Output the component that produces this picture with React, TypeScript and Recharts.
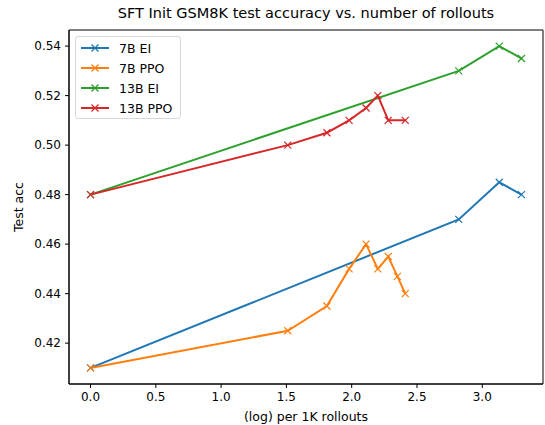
import {
  LineChart,
  Line,
  XAxis,
  YAxis,
  ReferenceArea,
} from "recharts";

// x values are log10 of rollouts (per 1K)
const EI_X = [0, 2.82, 3.13, 3.3];
const PPO_7B_X = [0, 1.51, 1.81, 1.98, 2.11, 2.2, 2.28, 2.35, 2.41];
const PPO_13B_X = [0, 1.51, 1.81, 1.98, 2.11, 2.2, 2.28, 2.41];

const EI_7B = [0.41, 0.47, 0.485, 0.48];
const PPO_7B = [0.41, 0.425, 0.435, 0.45, 0.46, 0.45, 0.455, 0.447, 0.44];
const EI_13B = [0.48, 0.53, 0.54, 0.535];
const PPO_13B = [0.48, 0.5, 0.505, 0.51, 0.515, 0.52, 0.51, 0.51];

const X_TICKS = [0, 0.5, 1.0, 1.5, 2.0, 2.5, 3.0];
const Y_TICKS = [0.42, 0.44, 0.46, 0.48, 0.5, 0.52, 0.54];

const X_DOMAIN: [number, number] = [-0.165, 3.465];
const Y_DOMAIN: [number, number] = [0.4035, 0.5465];

const SERIES = [
  { name: "7B EI", color: "#1f77b4", xs: EI_X, ys: EI_7B },
  { name: "7B PPO", color: "#ff7f0e", xs: PPO_7B_X, ys: PPO_7B },
  { name: "13B EI", color: "#2ca02c", xs: EI_X, ys: EI_13B },
  { name: "13B PPO", color: "#d62728", xs: PPO_13B_X, ys: PPO_13B },
];

const FONT = "DejaVu Sans, sans-serif";

function Cross(props: any) {
  const { cx, cy, stroke } = props;
  if (cx == null || cy == null) return null;
  const r = 3.5;
  return (
    <g>
      <line x1={cx - r} y1={cy - r} x2={cx + r} y2={cy + r} stroke={stroke} strokeWidth={1.2} />
      <line x1={cx - r} y1={cy + r} x2={cx + r} y2={cy - r} stroke={stroke} strokeWidth={1.2} />
    </g>
  );
}

function LegendBox() {
  return (
    <div
      style={{
        position: "absolute",
        left: 75,
        top: 36,
        width: 106,
        height: 83,
        border: "1px solid #d8d8d8",
        borderRadius: 3,
        background: "rgba(255,255,255,0.8)",
        fontFamily: FONT,
        fontSize: 12.5,
        boxSizing: "border-box",
        paddingTop: 1,
      }}
    >
      {SERIES.map((s) => (
        <div key={s.name} style={{ display: "flex", alignItems: "center", height: 20 }}>
          <svg width={43} height={20} style={{ flexShrink: 0 }}>
            <line x1={5} y1={10} x2={33} y2={10} stroke={s.color} strokeWidth={2} />
            <Cross cx={19} cy={10} stroke={s.color} />
          </svg>
          <span style={{ color: "#000" }}>{s.name}</span>
        </div>
      ))}
    </div>
  );
}

export default function App() {
  const tick = { fontSize: 12, fill: "#000", fontFamily: FONT };
  return (
    <div style={{ position: "absolute", left: 0, top: 0, width: 545, height: 425, background: "#fff" }}>
      <LineChart
        width={545}
        height={425}
        margin={{ top: 30, right: 2, bottom: 0, left: 0 }}
      >
        <XAxis
          type="number"
          dataKey="x"
          domain={X_DOMAIN}
          ticks={X_TICKS}
          allowDataOverflow
          height={41}
          tick={tick}
          tickFormatter={(v: number) => v.toFixed(1)}
          tickSize={4}
          tickMargin={4}
          axisLine={{ stroke: "#000" }}
          tickLine={{ stroke: "#000" }}
        />
        <YAxis
          type="number"
          dataKey="y"
          domain={Y_DOMAIN}
          ticks={Y_TICKS}
          allowDataOverflow
          width={69}
          tick={tick}
          tickFormatter={(v: number) => v.toFixed(2)}
          tickSize={4}
          tickMargin={4}
          axisLine={{ stroke: "#000" }}
          tickLine={{ stroke: "#000" }}
        />
        <ReferenceArea
          x1={X_DOMAIN[0]}
          x2={X_DOMAIN[1]}
          y1={Y_DOMAIN[0]}
          y2={Y_DOMAIN[1]}
          fill="none"
          stroke="#000"
          strokeWidth={1}
          ifOverflow="visible"
        />
        {SERIES.map((s) => (
          <Line
            key={s.name}
            name={s.name}
            data={s.xs.map((x, i) => ({ x, y: s.ys[i] }))}
            dataKey="y"
            stroke={s.color}
            strokeWidth={2}
            dot={<Cross stroke={s.color} />}
            activeDot={false}
            isAnimationActive={false}
          />
        ))}
      </LineChart>
      <div
        style={{
          position: "absolute",
          left: 69,
          width: 474,
          top: 5,
          textAlign: "center",
          fontFamily: FONT,
          fontSize: 14.5,
          color: "#000",
        }}
      >
        SFT Init GSM8K test accuracy vs. number of rollouts
      </div>
      <div
        style={{
          position: "absolute",
          left: 69,
          width: 474,
          top: 409,
          textAlign: "center",
          fontFamily: FONT,
          fontSize: 12.5,
          color: "#000",
        }}
      >
        (log) per 1K rollouts
      </div>
      <div
        style={{
          position: "absolute",
          left: 18,
          top: 207,
          transform: "translate(-50%, -50%) rotate(-90deg)",
          fontFamily: FONT,
          fontSize: 12.5,
          color: "#000",
          whiteSpace: "nowrap",
        }}
      >
        Test acc
      </div>
      <LegendBox />
    </div>
  );
}
